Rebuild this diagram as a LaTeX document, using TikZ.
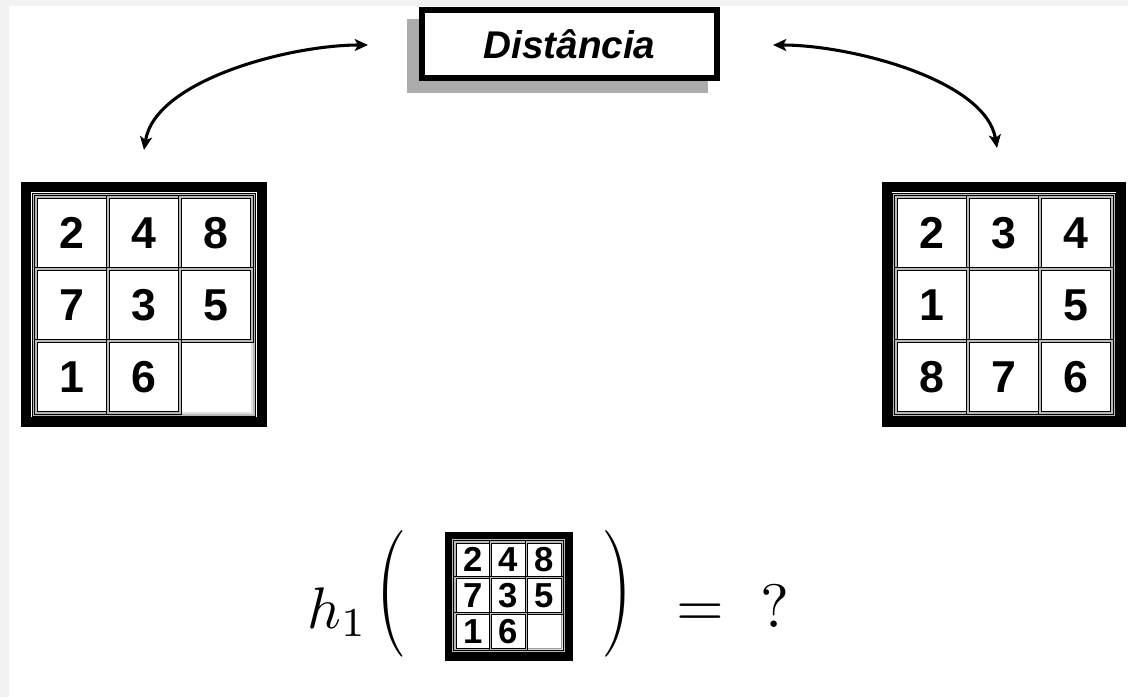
\documentclass[tikz,border=0pt]{standalone}
\usepackage{fontspec}
\usepackage{graphicx}
\newfontfamily\arialf{Liberation Sans}
\usetikzlibrary{arrows.meta}
\tikzset{
  cell/.style={draw=black, line width=0.75pt, double=gray!55, double distance=0.8pt},
  blankcell/.style={draw=gray!80, line width=0.6pt, double=gray!25, double distance=0.8pt},
  digit/.style={inner sep=0pt, anchor=center},
  arr/.style={line width=2.3pt, {Stealth[length=10pt,width=9pt,inset=2.5pt]}-{Stealth[length=10pt,width=9pt,inset=2.5pt]}},
  mathtxt/.style={inner sep=0pt},
}
\newcommand\drawpuzzle[6]{%
  \draw[cell] (#2-2,#3-2) rectangle (#2+3*#4+2,#3+3*#4+2);
  \foreach \d [count=\i from 0] in {#6} {
    \pgfmathtruncatemacro\rr{int(\i/3)}
    \pgfmathtruncatemacro\cc{mod(\i,3)}
    \ifnum\d=0
      \draw[blankcell] (#2+\cc*#4,#3+\rr*#4) rectangle ++(#4,#4);
    \fi
  }
  \foreach \d [count=\i from 0] in {#6} {
    \pgfmathtruncatemacro\rr{int(\i/3)}
    \pgfmathtruncatemacro\cc{mod(\i,3)}
    \ifnum\d=0\else
      \draw[cell] (#2+\cc*#4,#3+\rr*#4) rectangle ++(#4,#4);
      \node[digit, font={\arialf\bfseries\fontsize{#5}{#5}\selectfont}] (#1-\rr-\cc) at (#2+\cc*#4+#4/2,#3+\rr*#4+#4/2) {\d};
    \fi
  }}
\begin{document}
\begin{tikzpicture}[x=0.75pt,y=-0.75pt]
\useasboundingbox (0,0) rectangle (1128,697);
\fill[gray!10] (0,0) rectangle (1128,697);
\fill[white] (9,6) rectangle (1128,697);

% title box with shadow
\fill[gray!65] (407,19) rectangle (708,93);
\node[draw=black, fill=white, line width=4.5pt, minimum width=221pt, minimum height=51pt, inner sep=0pt]
  (dist) at (569.5,44) {\arialf\bfseries\itshape\fontsize{29pt}{29pt}\selectfont Distância};

% arrows
\coordinate (aL) at (368,45);
\coordinate (aLb) at (144,150);
\coordinate (aR) at (773,45);
\coordinate (aRb) at (997,148);
\draw[arr] (aL) .. controls (290,45) and (155,80) .. (aLb);
\draw[arr] (aR) .. controls (851,45) and (986,80) .. (aRb);

% left puzzle
\fill[black] (21,182) rectangle (267,427);
\fill[white] (31,192) rectangle (257,417);
\drawpuzzle{L}{36}{197}{72}{33.5pt}{2,4,8,7,3,5,1,6,0}

% right puzzle
\fill[black] (882,182) rectangle (1126,427);
\fill[white] (892,192) rectangle (1116,417);
\drawpuzzle{R}{896}{197}{72}{33.5pt}{2,3,4,1,0,5,8,7,6}

% small puzzle
\fill[black] (445,532) rectangle (573,661);
\fill[white] (452,538) rectangle (566,652);
\drawpuzzle{S}{455}{542}{35.7}{26pt}{2,4,8,7,3,5,1,6,0}

% formula
\node[mathtxt, anchor=base west] (h) at (307,628) {\scalebox{4.4}{$h_1$}};
\node[mathtxt] (lp) at (391,594) {\fontsize{67pt}{67pt}\selectfont\scalebox{1}[1.42]{(}};
\node[mathtxt] (rp) at (617,594) {\fontsize{67pt}{67pt}\selectfont\scalebox{1}[1.42]{)}};
\node[mathtxt, anchor=base] (eq) at (700,626) {\scalebox{4.6}{$=$}};
\node[mathtxt, anchor=base] (q) at (775,627) {\scalebox{4.6}{$?$}};
\end{tikzpicture}
\end{document}
